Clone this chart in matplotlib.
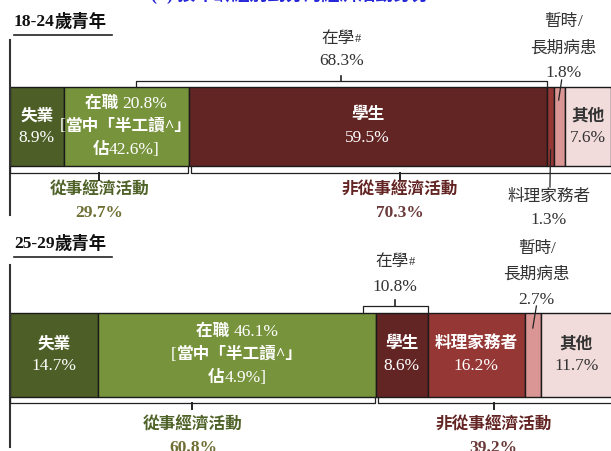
import matplotlib
matplotlib.use("Agg")
import matplotlib.pyplot as plt
from matplotlib.transforms import offset_copy

# ---------------- data ----------------
categories = ['失業', '在職', '學生', '料理家務者', '暫時/長期病患', '其他']
values_1824 = [8.9, 20.8, 59.5, 1.3, 1.8, 7.6]
values_2529 = [14.7, 46.1, 8.6, 16.2, 2.7, 11.7]
econ_active = [29.7, 60.8]
non_active = [70.3, 39.2]
in_school = [68.3, 10.8]
half_work = [42.6, 4.9]
group_titles = ['18-24歲青年', '25-29歲青年']

colors = ['#4d5f27', '#77933c', '#632523', '#953735', '#d99694', '#f2dcdb']
FAM = ['Liberation Serif', 'Noto Sans CJK TC']

W, H = 611, 451
fig = plt.figure(figsize=(W / 100, H / 100), dpi=100)
ax = fig.add_axes([0, 0, 1, 1])
px_per = 6.01
ax.set_xlim(-10 / px_per, (W - 10) / px_per - 0.1)
ax.set_ylim(H, 0)
ax.axis('off')
renderer = fig.canvas.get_renderer()

def px(p):
    return p / px_per

LINE = '#222222'
CJK_FS = 12
NUM_FS = 12.5

def runs(x, y, parts, ha='center'):
    """parts: list of (text, props). Draw horizontally concatenated."""
    texts = []
    for s, props in parts:
        t = ax.text(x, y, s, ha='left', va='center', family=FAM, **props)
        texts.append(t)
    widths = [t.get_window_extent(renderer).width for t in texts]
    cur = -sum(widths) / 2 if ha == 'center' else 0
    for t, w in zip(texts, widths):
        t.set_transform(offset_copy(ax.transData, fig=fig, x=cur, y=0, units='dots'))
        cur += w

def cjk(color, bold=True, fs=CJK_FS):
    return dict(color=color, fontsize=fs, fontweight='bold' if bold else 'normal')

def num(color, fs=NUM_FS, bold=False):
    return dict(color=color, fontsize=fs, fontweight='bold' if bold else 'normal')

def bracket_below(x0, x1, ytop, yline, ytick, xm=None):
    ax.plot([x0, x0, x1, x1], [ytop, yline, yline, ytop], color=LINE, lw=0.9)
    if xm is None:
        xm = (x0 + x1) / 2
    ax.plot([xm, xm], [yline, ytick], color=LINE, lw=1.4)

def bracket_above(x0, x1, ybot, yline, ytick):
    ax.plot([x0, x0, x1, x1], [ybot, yline, yline, ybot], color=LINE, lw=0.9)
    xm = (x0 + x1) / 2
    ax.plot([xm, xm], [yline, ytick], color=LINE, lw=1.2)
    return xm

# blue title (cut at top)
ax.text(px(290 - 10), -6, '(b) 按年齡組別劃分的經濟活動身分', color='#2626d9', fontsize=13,
        fontweight='bold', ha='center', va='center', family=FAM)

layouts = [
    dict(title_y=22, ul_y=35, axis=(40, 215), bar_top=87, bar_bot=166,
         school_y=(39, 61), sb_line=81, sb_tick=76,
         sick_y=(22, 49, 73), sick_leader=((91.7, 80), (91.2, 100)),
         bb_line=173, bb_tick=180, low_y=(191, 213)),
    dict(title_y=244, ul_y=257, axis=(265, 447), bar_top=313, bar_bot=397,
         school_y=(262, 287), sb_line=306, sb_tick=300,
         sick_y=(249, 275, 300), sick_leader=((87.5, 306), (86.9, 328)),
         bb_line=403, bb_tick=409, low_y=(426, 448)),
]

WHITE = 'white'
DARK = '#333333'

for gi, (vals, L) in enumerate(zip([values_1824, values_2529], layouts)):
    # group title with underline
    digits, word = group_titles[gi][:5], group_titles[gi][5:]
    runs(px(4), L['title_y'], [(digits, num('#111111', fs=12.5, bold=True)),
                               (word, cjk('#111111', fs=12.5))], ha='left')
    ax.plot([px(4), px(102)], [L['ul_y'], L['ul_y']], color='#222222', lw=1.2)
    ax.plot([0, 0], list(L['axis']), color='#333333', lw=1.5)

    lefts = [sum(vals[:i]) for i in range(len(vals))]
    yc = (L['bar_top'] + L['bar_bot']) / 2
    h = L['bar_bot'] - L['bar_top']
    ax.barh([yc] * len(vals), vals, left=lefts, height=h, color=colors,
            edgecolor='#1a1a1a', linewidth=1.0)

    def cx(i):
        return lefts[i] + vals[i] / 2

    # 失業
    runs(cx(0), yc - 10, [(categories[0], cjk(WHITE))])
    runs(cx(0), yc + 11, [(f'{vals[0]}%', num(WHITE))])
    # 在職
    runs(cx(1), yc - 23, [(categories[1] + ' ', cjk(WHITE)), (f'{vals[1]}%', num(WHITE))])
    runs(cx(1), yc, [('[', num(WHITE)), ('當中「半工讀^」', cjk(WHITE))])
    runs(cx(1), yc + 23, [('佔', cjk(WHITE)), (f'{half_work[gi]}%]', num(WHITE))])
    # 學生
    runs(cx(2), yc - 11, [(categories[2], cjk(WHITE))])
    runs(cx(2), yc + 11, [(f'{vals[2]}%', num(WHITE))])
    if gi == 1:
        runs(cx(3), yc - 11, [(categories[3], cjk(WHITE))])
        runs(cx(3), yc + 11, [(f'{vals[3]}%', num(WHITE))])
    # 其他
    runs(cx(5), yc - 10, [(categories[5], cjk(DARK))])
    runs(cx(5), yc + 11, [(f'{vals[5]}%', num(DARK))])

    # in-school bracket above
    end_school = lefts[2] + vals[2]
    xm = bracket_above(end_school - in_school[gi], end_school, L['bar_top'], L['sb_line'], L['sb_tick'])
    runs(xm, L['school_y'][0], [('在學', cjk(DARK, bold=False)), ('#', num(DARK, fs=9))])
    runs(xm, L['school_y'][1], [(f'{in_school[gi]}%', num(DARK))])

    # sick label with leader
    sx = cx(4) + 0.6
    runs(sx, L['sick_y'][0], [('暫時', cjk(DARK, bold=False)), ('/', num(DARK))])
    runs(sx, L['sick_y'][1], [('長期病患', cjk(DARK, bold=False))])
    runs(sx, L['sick_y'][2], [(f'{vals[4]}%', num(DARK))])
    (a, b) = L['sick_leader']
    ax.plot([a[0], b[0]], [a[1], b[1]], color=LINE, lw=0.9)

    # housework label for 18-24 (outside)
    if gi == 0:
        hx = cx(3)
        ax.plot([hx, hx - 0.1], [150, 187], color=LINE, lw=0.9)
        runs(hx - 0.3, 197, [(categories[3], cjk(DARK, bold=False))])
        runs(hx - 0.3, 220, [(f'{vals[3]}%', num(DARK))])

    # lower brackets
    ea = econ_active[gi]
    bracket_below(0, ea - 0.15, L['bar_bot'], L['bb_line'], L['bb_tick'])
    bracket_below(ea + 0.35, 100.5, L['bar_bot'], L['bb_line'], L['bb_tick'], xm=(ea + 100) / 2)
    runs(ea / 2, L['low_y'][0], [('從事經濟活動', cjk('#4f6228'))])
    runs(ea / 2, L['low_y'][1], [(f'{econ_active[gi]}%', num('#6f6f35', bold=True))])
    runs((ea + 100) / 2, L['low_y'][0], [('非從事經濟活動', cjk('#632523'))])
    runs((ea + 100) / 2, L['low_y'][1], [(f'{non_active[gi]}%', num('#6b3a3a', bold=True))])

fig.savefig('out.png', dpi=100)
